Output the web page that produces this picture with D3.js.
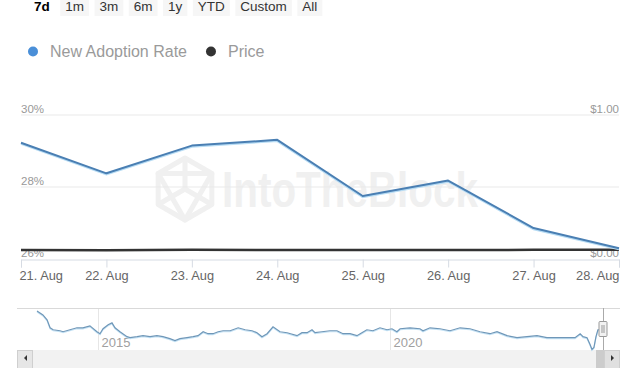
<!DOCTYPE html>
<html><head><meta charset="utf-8">
<script src="https://cdn.jsdelivr.net/npm/d3@7"></script>
<style>html,body{margin:0;padding:0;background:#fff;overflow:hidden}svg{display:block}</style>
</head><body><svg id="c" width="640" height="368"></svg>
<script>
// ---- data ----
const days = ["2023-08-21","2023-08-22","2023-08-23","2023-08-24","2023-08-25","2023-08-26","2023-08-27","2023-08-28"];
const adoptionRate = [29.23, 28.38, 29.15, 29.31, 27.75, 28.18, 26.86, 26.30];
const price = [0.0633, 0.0608, 0.0636, 0.0627, 0.0633, 0.0628, 0.0635, 0.0637];
const leftTicks = [26, 28, 30];
const rightTicks = [0, 1];
const rangeButtons = ["7d","1m","3m","6m","1y","YTD","Custom","All"];
const legendItems = ["New Adoption Rate","Price"];
const navYears = ["2015","2020"];
const navDates = ["2013-12-15","2014-01-21","2014-02-16","2014-03-07","2014-03-26","2014-05-08","2014-05-27","2014-07-09","2014-08-22","2014-09-28","2014-11-11","2014-12-25","2015-01-13","2015-02-01","2015-03-05","2015-03-29","2015-04-17","2015-05-18","2015-07-01","2015-07-20","2015-09-02","2015-10-09","2015-11-22","2016-01-04","2016-02-11","2016-03-25","2016-04-26","2016-05-27","2016-07-10","2016-08-17","2016-09-17","2016-10-19","2016-11-19","2016-12-20","2017-01-21","2017-02-21","2017-04-06","2017-05-26","2017-07-09","2017-08-21","2017-09-21","2017-10-22","2017-11-23","2017-12-30","2018-02-12","2018-03-28","2018-05-29","2018-06-29","2018-07-31","2018-08-31","2018-09-19","2018-11-01","2018-12-21","2019-02-03","2019-03-13","2019-04-26","2019-06-08","2019-07-09","2019-08-09","2019-09-16","2019-10-30","2019-12-13","2020-01-13","2020-02-13","2020-03-04","2020-05-05","2020-07-06","2020-07-25","2020-09-07","2020-11-08","2021-01-10","2021-03-14","2021-05-15","2021-07-17","2021-09-17","2021-10-31","2022-01-02","2022-03-05","2022-05-06","2022-07-08","2022-09-08","2022-11-10","2023-01-12","2023-03-03","2023-04-04","2023-04-22","2023-05-17","2023-06-05","2023-06-17","2023-06-29","2023-07-12","2023-07-24","2023-08-28"];
const navValues = [31.05,30.05,28.8,26.8,26.3,26.05,25.8,26.3,26.8,26.8,27.3,25.8,25.3,26.55,27.55,28.05,26.8,25.8,24.55,24.3,24.55,24.8,24.55,24.8,24.55,24.05,23.55,24.05,24.3,24.55,24.8,25.8,25.3,25.3,25.8,26.05,26.05,26.8,26.3,26.05,25.55,24.55,25.3,27.05,25.8,25.55,24.8,25.55,25.55,26.3,25.55,25.8,26.05,26.05,25.3,25.3,24.8,25.55,26.3,26.05,26.8,26.3,26.55,25.8,26.55,26.8,26.55,26.05,26.8,26.55,26.05,26.8,26.55,25.8,25.3,25.8,24.8,24.3,24.55,24.8,24.3,24.3,24.3,24.3,25.3,24.55,24.3,22.55,21.3,21.8,24.55,26.3,26.3];

// ---- setup ----
const svg = d3.select("#c");
const FONT = "'Liberation Sans', Arial, Helvetica, sans-serif";
const parse = d3.timeParse("%Y-%m-%d");
const dayDates = days.map(parse);

// ---- range selector ----
const btnG = svg.append("g");
let cx = 34;
rangeButtons.forEach((b, i) => {
  const g = btnG.append("g");
  const rect = g.append("rect");
  const t = g.append("text").attr("x", cx).attr("y", 11)
    .attr("font-family", FONT).attr("font-size", 13.5)
    .attr("font-weight", i === 0 ? "bold" : "normal")
    .attr("fill", i === 0 ? "#000" : "#333").text(b);
  const w = t.node().getComputedTextLength();
  if (i > 0) rect.attr("x", cx - 5).attr("y", -10).attr("width", w + 10).attr("height", 26).attr("fill", "#f6f6f6");
  else rect.remove();
  cx += w + 15.5;
});

// ---- legend ----
const legColors = ["#4a8fd8", "#333333"];
let lx = 33;
legendItems.forEach((name, i) => {
  svg.append("circle").attr("cx", lx).attr("cy", 51.5).attr("r", 5).attr("fill", legColors[i]);
  const t = svg.append("text").attr("x", lx + 17).attr("y", 57)
    .attr("font-family", FONT).attr("font-size", 16).attr("fill", "#9a9a9a").text(name);
  lx += 17 + t.node().getComputedTextLength() + 24;
});

// ---- main chart scales ----
const x = d3.scaleTime().domain(d3.extent(dayDates)).range([21, 619]);
const y = d3.scaleLinear().domain([26, 30]).range([259, 115]);
const yP = d3.scaleLinear().domain([0, 1]).range([259, 115]);

// watermark
const wm = svg.append("g").attr("fill", "none").attr("stroke", "#f0f0f0").attr("stroke-width", 5).attr("stroke-linejoin", "round");
const hx = 185, hy = 189, hr = 31;
const hexPts = d3.range(6).map(k => [hx + hr * Math.cos(Math.PI / 3 * k - Math.PI / 2), hy + hr * Math.sin(Math.PI / 3 * k - Math.PI / 2)]);
wm.append("path").attr("d", "M" + hexPts.map(p => p.join(",")).join("L") + "Z");
wm.append("path").attr("d", `M${hexPts[5][0]},${hexPts[5][1]}L${hexPts[1][0]},${hexPts[1][1]}L${hexPts[3][0]},${hexPts[3][1]}Z`);
wm.append("path").attr("d", `M${hexPts[0][0]},${hexPts[0][1]}L${hx},${hy}M${hexPts[2][0]},${hexPts[2][1]}L${hx},${hy}M${hexPts[4][0]},${hexPts[4][1]}L${hx},${hy}`);
svg.append("text").attr("x", 222).attr("y", 207).attr("font-family", FONT).attr("font-size", 50)
  .attr("font-weight", "bold").attr("fill", "#f0f0f0").attr("textLength", 256).attr("lengthAdjust", "spacingAndGlyphs").text("IntoTheBlock");

// gridlines
svg.append("g").selectAll("line").data(leftTicks.filter(d => d !== 26)).join("line")
  .attr("x1", 21).attr("x2", 619).attr("y1", d => y(d)).attr("y2", d => y(d))
  .attr("stroke", "#e9e9e9").attr("stroke-width", 1);

// x axis
const xAxis = d3.axisBottom(x).tickValues(dayDates).tickSize(8).tickFormat(d3.timeFormat("%-d. %b"));
const xg = svg.append("g").attr("transform", "translate(0,259.5)").call(xAxis);
xg.select(".domain").attr("stroke", "#d6dbe3");
xg.selectAll(".tick line").attr("stroke", "#d6dbe3");
xg.selectAll(".tick text").attr("font-family", FONT).attr("font-size", 12.8).attr("fill", "#666").attr("dy", "0.71em")
  .attr("text-anchor", (d, i) => i === 0 ? "start" : (i === dayDates.length - 1 ? "end" : "middle"))
  .attr("dx", (d, i) => i === 0 ? -2 : 0);

// y labels
svg.append("g").selectAll("text").data(leftTicks).join("text")
  .attr("x", 21).attr("y", d => y(d) - 2)
  .attr("font-family", FONT).attr("font-size", 11.5).attr("fill", "#999").text(d => d + "%");
svg.append("g").selectAll("text").data(rightTicks).join("text")
  .attr("x", 619).attr("y", d => yP(d) - 2).attr("text-anchor", "end")
  .attr("font-family", FONT).attr("font-size", 11.5).attr("fill", "#999").text(d => "$" + d.toFixed(2));

// price line
svg.append("path").datum(price).attr("fill", "none").attr("stroke", "#333").attr("stroke-width", 2.5)
  .attr("d", d3.line().x((d, i) => x(dayDates[i])).y(d => yP(d)));

// adoption line
const aLine = d3.line().x((d, i) => x(dayDates[i])).y(d => y(d));
svg.append("path").datum(adoptionRate).attr("fill", "none").attr("stroke", "#b7dcf4").attr("stroke-width", 2)
  .attr("transform", "translate(0,1.2)").attr("d", aLine);
svg.append("path").datum(adoptionRate).attr("fill", "none").attr("stroke", "#4a7fb3").attr("stroke-width", 2)
  .attr("stroke-linejoin", "round").attr("d", aLine);

// ---- navigator ----
const navD = navDates.map(parse);
const nx = d3.scaleTime().domain(d3.extent(navD)).range([37, 603.5]);
const ny = d3.scaleLinear().domain(d3.extent(navValues)).range([349.5, 311]);
// scrollbar
svg.append("rect").attr("x", 17).attr("y", 350).attr("width", 603).attr("height", 20).attr("fill", "#f2f2f2");
svg.append("rect").attr("x", 17.5).attr("y", 350.5).attr("width", 15).attr("height", 20).attr("fill", "#e6e6e6").attr("stroke", "#cfcfcf");
svg.append("path").attr("d", "M27,355L27,361L24,358Z").attr("fill", "#333");
svg.append("rect").attr("x", 596).attr("y", 350).attr("width", 8).attr("height", 20).attr("fill", "#cccccc");
svg.append("rect").attr("x", 604.5).attr("y", 350.5).attr("width", 15).attr("height", 20).attr("fill", "#e0e0e0").attr("stroke", "#cfcfcf");
svg.append("path").attr("d", "M611,355L611,361L614,358Z").attr("fill", "#333");
// year gridlines + labels
const yearDates = navYears.map(yv => parse(yv + "-01-01"));
svg.append("g").selectAll("line").data(yearDates).join("line")
  .attr("x1", d => Math.round(nx(d)) + 0.5).attr("x2", d => Math.round(nx(d)) + 0.5).attr("y1", 308).attr("y2", 350)
  .attr("stroke", "#e6e6e6");
svg.append("g").selectAll("text").data(yearDates).join("text")
  .attr("x", d => nx(d) + 3.5).attr("y", 347).attr("font-family", FONT).attr("font-size", 13).attr("fill", "#a0a0a0")
  .text((d, i) => navYears[i]);
// top outline
svg.append("line").attr("x1", 17).attr("x2", 620).attr("y1", 308.5).attr("y2", 308.5).attr("stroke", "#d9d9d9");
// series
const nLine = d3.line().x((d, i) => nx(navD[i])).y(d => ny(d));
svg.append("path").datum(navValues).attr("fill", "none").attr("stroke", "#c4e2f5").attr("stroke-width", 1.2)
  .attr("transform", "translate(0,1)").attr("d", nLine);
svg.append("path").datum(navValues).attr("fill", "none").attr("stroke", "#6f97b8").attr("stroke-width", 1.2).attr("d", nLine);
// handle
const hxp = nx(navD[navD.length - 1]);
svg.append("line").attr("x1", hxp).attr("x2", hxp).attr("y1", 308).attr("y2", 350).attr("stroke", "#aaa");
svg.append("rect").attr("x", hxp - 4.5).attr("y", 321.5).attr("width", 8).attr("height", 15).attr("rx", 1)
  .attr("fill", "#f2f2f2").attr("stroke", "#999");
svg.append("line").attr("x1", hxp - 1.5).attr("x2", hxp - 1.5).attr("y1", 325).attr("y2", 333).attr("stroke", "#999");
svg.append("line").attr("x1", hxp + 0.5).attr("x2", hxp + 0.5).attr("y1", 325).attr("y2", 333).attr("stroke", "#999");
</script></body></html>
